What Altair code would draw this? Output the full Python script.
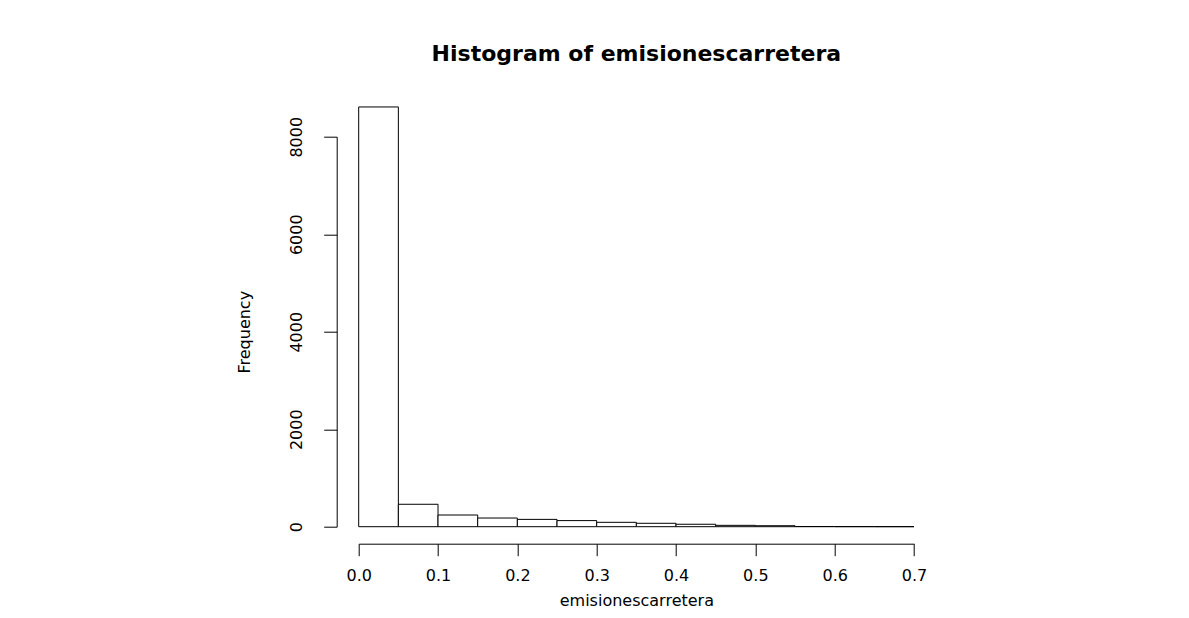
import altair as alt
import pandas as pd

bin_start = [0.00, 0.05, 0.10, 0.15, 0.20, 0.25, 0.30, 0.35, 0.40, 0.45, 0.50, 0.55, 0.60, 0.65]
bin_end = [0.05, 0.10, 0.15, 0.20, 0.25, 0.30, 0.35, 0.40, 0.45, 0.50, 0.55, 0.60, 0.65, 0.70]
counts = [8610, 460, 240, 178, 150, 125, 90, 70, 50, 28, 20, 4, 2, 1]
x_ticks = [0.0, 0.1, 0.2, 0.3, 0.4, 0.5, 0.6, 0.7]
y_ticks = [0, 2000, 4000, 6000, 8000]

df = pd.DataFrame({"start": bin_start, "end": bin_end, "count": counts})

FONT = "DejaVu Sans"

bars = alt.Chart(df).mark_bar(fill="white", stroke="black", strokeWidth=1).encode(
    x=alt.X(
        "start:Q",
        scale=alt.Scale(domain=[0, 0.7], nice=False, zero=False),
        axis=alt.Axis(
            title="emisionescarretera",
            values=x_ticks,
            format=".1f",
            offset=17,
            tickSize=12,
            labelPadding=12,
            titlePadding=9,
            grid=False,
        ),
    ),
    x2="end:Q",
    y=alt.Y(
        "count:Q",
        stack=None,
        scale=alt.Scale(domain=[0, 8000], nice=False),
        axis=alt.Axis(
            title="Frequency",
            values=y_ticks,
            format="d",
            offset=22,
            tickSize=13,
            labelAngle=270,
            labelAlign="center",
            labelBaseline="bottom",
            labelPadding=19,
            titlePadding=36,
            grid=False,
        ),
    ),
    y2=alt.datum(0),
)

chart = bars.properties(
    width=555.3,
    height=390,
    background="white",
    title=alt.TitleParams(
        "Histogram of emisionescarretera",
        font=FONT,
        fontSize=22,
        fontWeight="bold",
        anchor="middle",
        frame="group",
        baseline="alphabetic",
        offset=23,
        color="black",
    ),
    autosize=alt.AutoSizeParams(type="none"),
    padding={"left": 350.7, "top": 128.7, "right": 267, "bottom": 83.3},
).configure_view(stroke=None).configure_axis(
    labelFont=FONT,
    titleFont=FONT,
    labelFontSize=16,
    titleFontSize=16,
    titleFontWeight="normal",
    labelColor="black",
    titleColor="black",
    domainColor="black",
    tickColor="black",
    domainWidth=1,
    tickWidth=1,
    labelFlush=False,
    labelOverlap=False,
)

chart.save("out.html", embed_options={"renderer": "svg", "actions": False})
